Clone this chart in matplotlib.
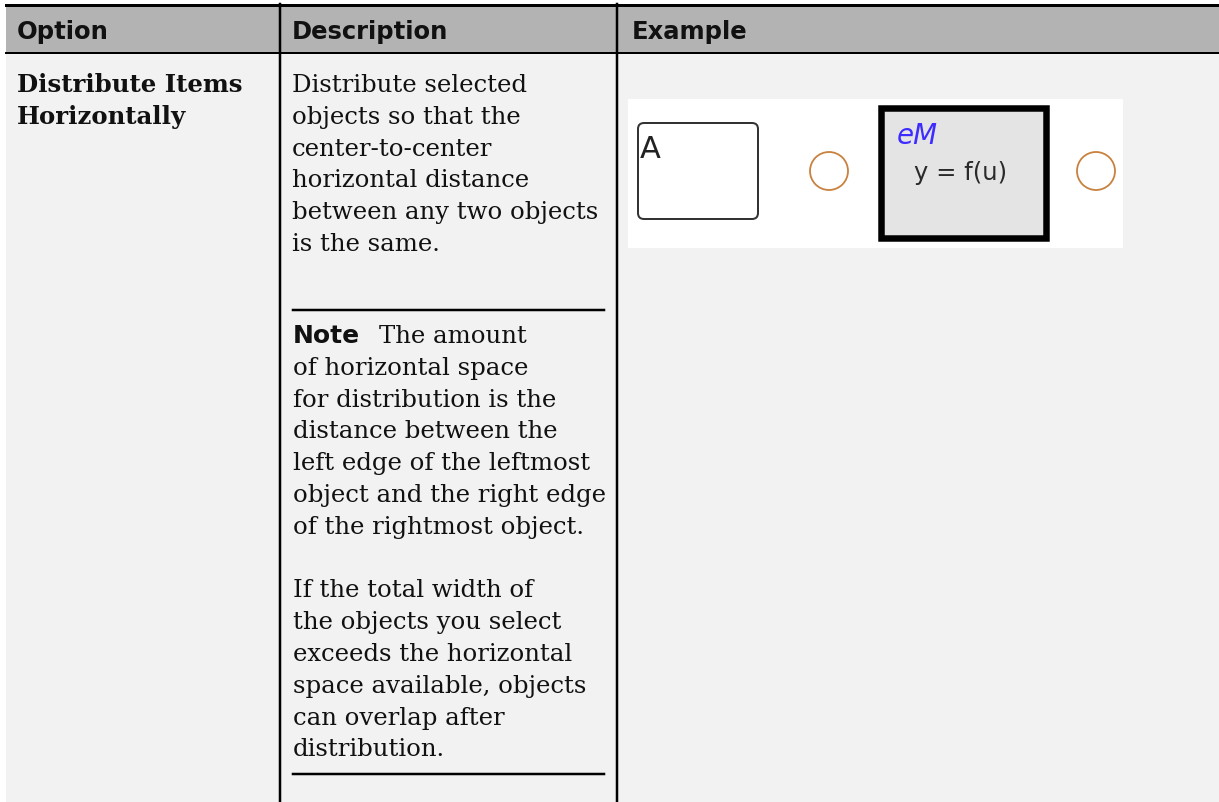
import matplotlib
matplotlib.use("Agg")
import matplotlib.pyplot as plt
from matplotlib.patches import Rectangle, FancyBboxPatch, Circle

# table content
headers = ["Option", "Description", "Example"]
option_lines = ["Distribute Items", "Horizontally"]
desc_lines = ["Distribute selected", "objects so that the", "center-to-center",
              "horizontal distance", "between any two objects", "is the same."]
note_label = "Note"
note_first = "The amount"
note_lines = ["of horizontal space", "for distribution is the", "distance between the",
              "left edge of the leftmost", "object and the right edge",
              "of the rightmost object."]
note_lines2 = ["If the total width of", "the objects you select",
               "exceeds the horizontal", "space available, objects",
               "can overlap after", "distribution."]
state_label = "A"
block_label = "eM"
block_text = "y = f(u)"

W, H = 1219, 803
fig = plt.figure(figsize=(W / 100, H / 100), dpi=100)
ax = fig.add_axes([0, 0, 1, 1])
ax.set_xlim(0, W)
ax.set_ylim(H, 0)
ax.axis("off")

px = 72 / 100  # points per pixel

# backgrounds
ax.add_patch(Rectangle((6, 6), W - 6, H - 6, color="#f2f2f2", lw=0))
ax.add_patch(Rectangle((6, 6), W - 6, 48, color="#b3b3b3", lw=0))
ax.plot([6, W], [5.5, 5.5], color="black", lw=3 * px)
ax.plot([6, W], [54, 54], color="black", lw=2 * px)
for xv in [280, 617]:
    ax.plot([xv, xv], [5, H], color="black", lw=2.5 * px)

# header
hx = [17, 292, 632]
for x, t in zip(hx, headers):
    ax.text(x, 39, t, fontsize=17.5, fontweight="bold", family="DejaVu Sans",
            va="baseline", ha="left", color="#111111")

serif = "DejaVu Serif"
fs = 17.6
step = 31.8

for i, t in enumerate(option_lines):
    ax.text(17, 92 + i * step, t, fontsize=fs, family=serif, fontweight="bold",
            va="baseline", color="#111111")

for i, t in enumerate(desc_lines):
    ax.text(292, 92 + i * step, t, fontsize=fs, family=serif,
            va="baseline", color="#111111")

# note box
ax.plot([293, 604], [311, 311], color="black", lw=2.5 * px)
ax.plot([293, 604], [775, 775], color="black", lw=2.5 * px)
ny = 343
nl = ax.text(293, ny, note_label, fontsize=18, family="DejaVu Sans", fontweight="bold",
             va="baseline", color="#111111")
fig.canvas.draw()
bb = nl.get_window_extent()
x_end = ax.transData.inverted().transform((bb.x1, bb.y0))[0]
ax.text(x_end + 19, ny, note_first, fontsize=fs, family=serif, va="baseline", color="#111111")
for i, t in enumerate(note_lines):
    ax.text(293, ny + (i + 1) * step, t, fontsize=fs, family=serif, va="baseline", color="#111111")
y2 = ny + (len(note_lines) + 2) * step
for i, t in enumerate(note_lines2):
    ax.text(293, y2 + i * step, t, fontsize=fs, family=serif, va="baseline", color="#111111")

# example picture
ax.add_patch(Rectangle((628, 100), 495, 149, facecolor="white", lw=0))
ax.add_patch(FancyBboxPatch((638, 124), 120, 96, boxstyle="round,pad=0,rounding_size=6",
                            facecolor="white", edgecolor="#333333", lw=2 * px))
ax.text(640, 158, state_label, fontsize=22, family="DejaVu Sans", va="baseline",
        color="#222222")
ax.add_patch(Circle((829, 172), 19, facecolor="none", edgecolor="#c8813f", lw=1.8 * px))
ax.add_patch(Circle((1096, 172), 19, facecolor="none", edgecolor="#c8813f", lw=1.8 * px))
ax.add_patch(Rectangle((880.5, 108.5), 165, 130, facecolor="#e4e4e4",
                       edgecolor="black", lw=6.5 * px))
ax.text(897, 144, block_label, fontsize=20, family="DejaVu Sans", style="italic",
        va="baseline", color="#3d2bff")
ax.text(914, 180, block_text, fontsize=17.5, family="DejaVu Sans", va="baseline",
        color="#2a2a2a")

fig.savefig("out.png", dpi=100, facecolor="white")
